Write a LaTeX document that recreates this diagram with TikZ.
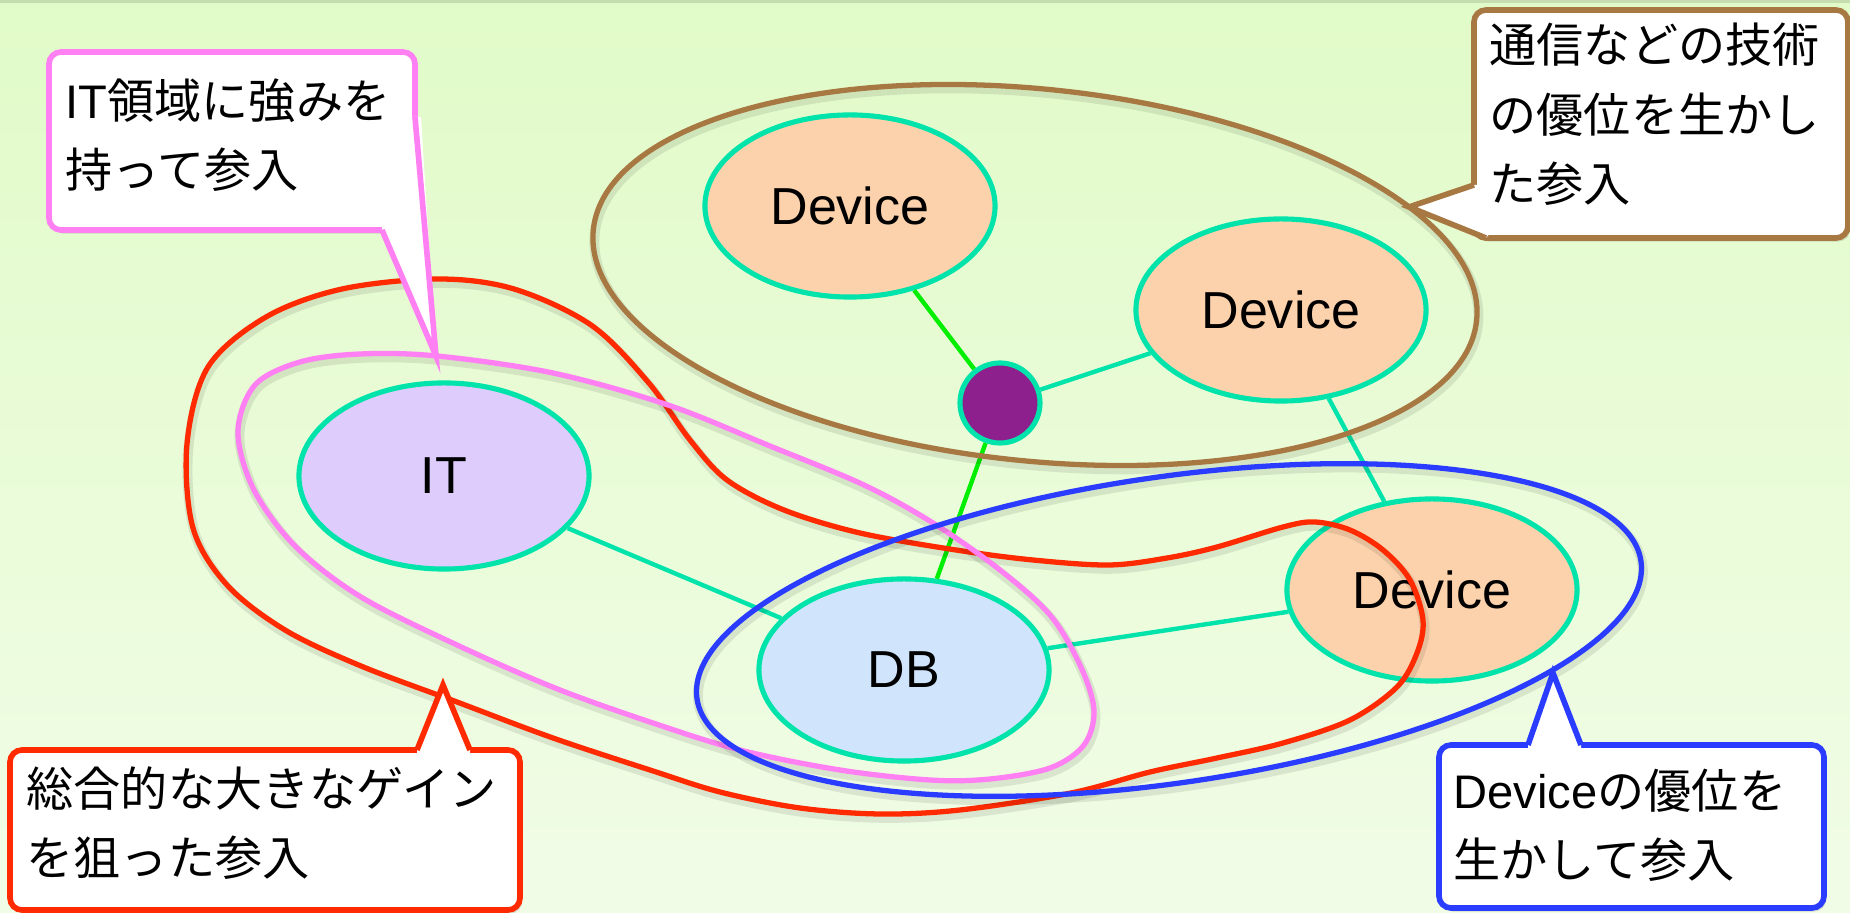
\documentclass[tikz,border=0pt]{standalone}
\usepackage{fontspec}
\setmainfont{Liberation Sans}
\newfontfamily\jp{Noto Sans CJK JP}
\usetikzlibrary{shapes.geometric,shadows}

\definecolor{bgtop}{HTML}{E1FBC8}
\definecolor{bgbot}{HTML}{F1FCE7}
\definecolor{mint}{HTML}{00E3AA}
\definecolor{lime}{HTML}{00EE00}
\definecolor{peach}{HTML}{FCD2AC}
\definecolor{lilac}{HTML}{DDCCFC}
\definecolor{skyfill}{HTML}{D0E4FC}
\definecolor{hubfill}{HTML}{8E208E}
\definecolor{cbrown}{HTML}{A87842}
\definecolor{cred}{HTML}{FF2A00}
\definecolor{cpink}{HTML}{FF80F2}
\definecolor{cblue}{HTML}{2A3CFF}

\begin{document}
\begin{tikzpicture}[x=0.01cm, y=-0.01cm,
  blob/.style={ellipse, draw=mint, line width=1.45pt, minimum width=2.9cm,
    minimum height=1.82cm, inner sep=0pt, font=\fontsize{14.8pt}{17pt}\selectfont},
  hubnode/.style={circle, draw=mint, fill=hubfill, line width=1.45pt,
    minimum size=0.8cm, inner sep=0pt},
  link/.style={draw=mint, line width=1.25pt},
  glink/.style={draw=lime, line width=1.25pt},
  zone/.style={line width=1.5pt,
    preaction={draw=black, draw opacity=0.09, line width=2.8pt,
      transform canvas={xshift=0.4pt, yshift=-1.1pt}}},
  balloon/.style={fill=white, line width=1.6pt, rounded corners=0.12cm,
    drop shadow={shadow xshift=0.6pt, shadow yshift=-1pt, opacity=0.25}},
  ptr/.style={line width=1.6pt, line join=miter},
  say/.style={anchor=base west, align=left, inner sep=0pt,
    font=\fontsize{13.4pt}{19.9pt}\selectfont},
  jsay/.style={say, font=\jp\fontsize{13.4pt}{19.9pt}\selectfont}
]
\useasboundingbox (0,0) rectangle (1850,913);

% background
\shade[top color=bgtop, bottom color=bgbot] (0,0) rectangle (1850,913);
\draw[line width=0.9pt, draw=black!12!bgtop] (0,1) -- (1850,1);

% nodes
\node[blob, fill=peach] (d1) at (850,206) {Device};
\node[blob, fill=peach] (d2) at (1281,310) {Device};
\node[blob, fill=peach] (d3) at (1432,590) {Device};
\node[blob, fill=lilac, minimum height=1.86cm] (it) at (444,476) {IT};
\node[blob, fill=skyfill] (db) at (904,670) {DB};
\node[hubnode] (hub) at (1000,403) {};

% connectors
\draw[glink] (d1) -- (hub);
\draw[link] (hub) -- (d2);
\draw[glink] (hub) -- (db);
\draw[link] (it) -- (db);
\draw[link] (db) -- (d3);
\draw[link] (d2) -- (d3);

% groupings
\draw[zone, draw=cbrown, rotate around={-5.85:(1035,275)}]
  (1035,275) ellipse [x radius=444, y radius=186];

\draw[zone, draw=cred] plot[smooth cycle, tension=0.55] coordinates {
  (187,444) (208,367) (266,317) (342,289) (438,279) (514,289) (591,325)
  (648,382) (690,440) (727,480) (784,510) (860,533) (956,550) (1033,560)
  (1109,565) (1167,558) (1217,547) (1283,527) (1315,522) (1350,530)
  (1383,550) (1410,580) (1423,620) (1417,653) (1397,687) (1350,720)
  (1283,743) (1217,758) (1150,772) (1071,793) (960,810) (880,814)
  (800,808) (720,792) (650,770) (553,738) (457,702) (361,666) (285,630)
  (227,585) (193,528)};

\draw[zone, draw=cpink] plot[smooth cycle, tension=0.55] coordinates {
  (437,356) (553,373) (668,405) (770,446) (864,485) (933,523) (1000,570)
  (1050,615) (1080,665) (1094,710) (1084,745) (1050,768) (990,779)
  (930,780) (840,770) (740,750) (650,722) (555,688) (457,645) (361,597)
  (296,547) (254,490) (238,432) (255,385) (300,362) (360,354)};

\draw[zone, draw=cblue, rotate around={8.3:(1169,630)}]
  (1169,630) ellipse [x radius=477, y radius=153];

% callout: IT strength
\coordinate (pkA) at (415,117);
\coordinate (pkT) at (436,356);
\coordinate (pkB) at (382,230);
\draw[balloon, draw=cpink] (49,52) rectangle (415,230);
\fill[white] (pkB) -- (pkT) -- (421,117) -- (405,117) -- (405,220) -- (382,220) -- cycle;
\draw[ptr, draw=cpink] (pkA) -- (pkT) -- (pkB);
\node[say] (txtit) at (65,188) {IT{\jp 領域に強みを}\\{\jp 持って参入}};

% callout: communication technology
\coordinate (brA) at (1474,185);
\coordinate (brT) at (1409,207);
\coordinate (brB) at (1486,238);
\draw[balloon, draw=cbrown] (1474,10) rectangle (1848,238);
\fill[white] (brA) -- (brT) -- (brB) -- (1492,231) -- (1482,231) -- (1482,185) -- cycle;
\draw[ptr, draw=cbrown] (brA) -- (brT) -- (brB);
\node[jsay] (txtcom) at (1489,202) {通信などの技術\\の優位を生かし\\た参入};

% callout: overall gain
\coordinate (rdA) at (417,750);
\coordinate (rdT) at (443,685);
\coordinate (rdB) at (470,750);
\draw[balloon, draw=cred] (10,750) rectangle (520,910);
\fill[white] (rdA) -- (rdT) -- (rdB) -- (470,758) -- (417,758) -- cycle;
\draw[ptr, draw=cred] (rdA) -- (rdT) -- (rdB);
\node[jsay] (txtgain) at (26,876) {総合的な大きなゲイン\\を狙った参入};

% callout: device advantage
\coordinate (blA) at (1528,745);
\coordinate (blT) at (1553,673);
\coordinate (blB) at (1581,745);
\draw[balloon, draw=cblue] (1439,745) rectangle (1824,908);
\fill[white] (blA) -- (blT) -- (blB) -- (1581,753) -- (1528,753) -- cycle;
\draw[ptr, draw=cblue] (blA) -- (blT) -- (blB);
\node[say] (txtdev) at (1453,878) {Device{\jp の優位を}\\{\jp 生かして参入}};

\end{tikzpicture}
\end{document}
